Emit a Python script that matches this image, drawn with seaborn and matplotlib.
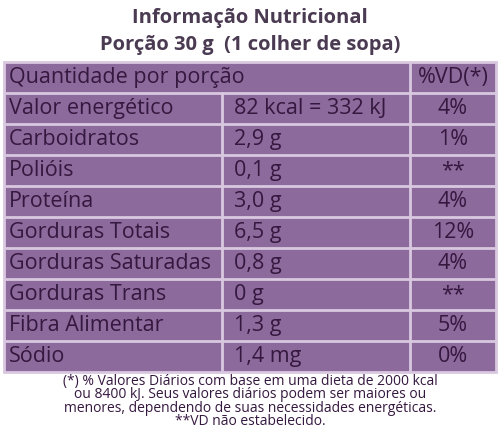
import matplotlib
matplotlib.use("Agg")
import matplotlib.pyplot as plt
import seaborn as sns
from matplotlib.patches import Rectangle

title_lines = ["Informação Nutricional", "Porção 30 g  (1 colher de sopa)"]
header = ["Quantidade por porção", "%VD(*)"]
nutrients = ["Valor energético", "Carboidratos", "Polióis", "Proteína", "Gorduras Totais",
             "Gorduras Saturadas", "Gorduras Trans", "Fibra Alimentar", "Sódio"]
amounts = ["82 kcal = 332 kJ", "2,9 g", "0,1 g", "3,0 g", "6,5 g", "0,8 g", "0 g", "1,3 g", "1,4 mg"]
vd = ["4%", "1%", "**", "4%", "12%", "4%", "**", "5%", "0%"]
footer = ["(*) % Valores Diários com base em uma dieta de 2000 kcal",
          "ou 8400 kJ. Seus valores diários podem ser maiores ou",
          "menores, dependendo de suas necessidades energéticas.",
          "**VD não estabelecido."]

sns.set_style("white")
plt.rcParams['font.family'] = ['Open Sans', 'DejaVu Sans']

bg = "#8c6a9c"
line = "#d9c8e0"
txt = "#35183f"

fig = plt.figure(figsize=(5, 4.3), dpi=100)
ax = fig.add_axes([0, 0, 1, 1])
ax.set_xlim(0, 500)
ax.set_ylim(430, 0)
ax.axis("off")

ax.text(250, 18, title_lines[0], ha="center", va="center", fontsize=14.5, fontweight="bold", color="#4a3a52")
ax.text(250, 45, title_lines[1], ha="center", va="center", fontsize=14.5, fontweight="bold", color="#4a3a52")

x0, x1, x2, x3 = 4, 222, 410, 496
top, rh = 62, 31
ax.add_patch(Rectangle((x0, top), x3 - x0, rh * 10, facecolor=bg, edgecolor=line, lw=2))
for i in range(1, 10):
    ax.plot([x0, x3], [top + i * rh] * 2, color=line, lw=2)
ax.plot([x2, x2], [top, top + rh * 10], color=line, lw=2)
ax.plot([x1, x1], [top + rh, top + rh * 10], color=line, lw=2)

fs = 15.5
ax.text(x0 + 5, top + rh / 2, header[0], va="center", fontsize=fs, color=txt)
ax.text(453, top + rh / 2, header[1], va="center", ha="center", fontsize=fs, color=txt)
for i, (n, a, v) in enumerate(zip(nutrients, amounts, vd)):
    y = top + (i + 1.5) * rh
    ax.text(x0 + 5, y, n, va="center", fontsize=fs, color=txt)
    ax.text(x1 + 12, y, a, va="center", fontsize=fs, color=txt)
    ax.text(453, y, v, va="center", ha="center", fontsize=fs, color=txt)

for i, f in enumerate(footer):
    ax.text(250, 381 + i * 13.5, f, ha="center", va="center", fontsize=10, color=txt)

fig.savefig("out.png", dpi=100, facecolor="white")
